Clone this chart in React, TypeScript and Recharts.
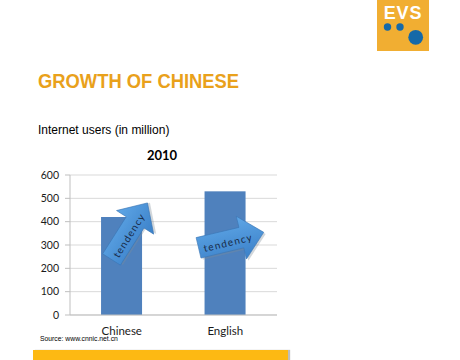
import React from "react";
import { BarChart, Bar, XAxis, YAxis, CartesianGrid } from "recharts";

const languages = ["Chinese", "English"];
const users2010 = [420, 530];
const yTicks = [0, 100, 200, 300, 400, 500, 600];
const edgeTicks = [0, 1, 2];
const arrowLabel = "tendency";

const data = languages.map((name, i) => ({ name, users: users2010[i] }));

// tendency arrows, placed relative to the top-left corner of their bar
const ARROWS = [
  { dx: 10.5, dy: 42.5, angle: -57.6 },
  { dx: -6, dy: 56.5, angle: -13.4 },
];

const ORANGE = "#E9A11B";
const BAR_BLUE = "#4F81BD";
const AXIS_GREY = "#BFBFBF";
const FONT = "Lato, 'Open Sans', sans-serif";

function TendencyArrow({ x, y, angle, id }: { x: number; y: number; angle: number; id: number }) {
  const len = 67;
  const shaft = 10.5;
  const headW = 22;
  const headL = 23;
  const pts = [
    [0, -shaft],
    [len - headL, -shaft],
    [len - headL, -headW],
    [len, 0],
    [len - headL, headW],
    [len - headL, shaft],
    [0, shaft],
  ]
    .map((p) => p.join(","))
    .join(" ");
  return (
    <g transform={`translate(${x},${y}) rotate(${angle})`}>
      <defs>
        <linearGradient id={`arrowFill${id}`} x1="0" y1="0" x2="0" y2="1">
          <stop offset="0%" stopColor="#5EA6E6" />
          <stop offset="100%" stopColor="#3B80C8" />
        </linearGradient>
      </defs>
      <polygon points={pts} fill="#7f8c99" opacity={0.35} transform="translate(1.5,2)" />
      <polygon points={pts} fill={`url(#arrowFill${id})`} stroke="#3A76B5" strokeWidth={0.6} />
      <text
        x={30}
        y={2}
        dy="0.35em"
        textAnchor="middle"
        fontFamily={FONT}
        fontSize={10}
        letterSpacing={1.2}
        fill="#172a47"
      >
        {arrowLabel}
      </text>
    </g>
  );
}

const renderBar = (props: any) => {
  const { x, y, width, height, index } = props;
  const a = ARROWS[index];
  return (
    <g>
      <rect x={x} y={y} width={width} height={height} fill={BAR_BLUE} />
      {a && <TendencyArrow x={x + a.dx} y={y + a.dy} angle={a.angle} id={index} />}
    </g>
  );
};

export default function App() {
  return (
    <div
      style={{
        position: "absolute",
        left: 0,
        top: 0,
        width: 460,
        height: 360,
        background: "#fff",
        overflow: "hidden",
        fontFamily: "'Liberation Sans', Arial, sans-serif",
      }}
    >
      {/* EVS logo */}
      <svg width={460} height={60} style={{ position: "absolute", left: 0, top: 0 }}>
        <rect x={377} y={0} width={52} height={51} fill="#F1AE32" />
        <text
          x={403}
          y={19}
          textAnchor="middle"
          fontFamily="'Liberation Sans', Arial, sans-serif"
          fontWeight="bold"
          fontSize={18}
          letterSpacing={0.8}
          fill="#fff"
        >
          EVS
        </text>
        <circle cx={387.5} cy={27} r={3.7} fill="#1569A8" />
        <circle cx={400} cy={27} r={3.7} fill="#1569A8" />
        <circle cx={415.7} cy={37.3} r={7.4} fill="#1569A8" />
      </svg>

      <div
        style={{
          position: "absolute",
          left: 38,
          top: 70,
          fontSize: 21,
          lineHeight: "21px",
          fontWeight: "bold",
          color: ORANGE,
          whiteSpace: "nowrap",
          transform: "scaleX(0.875)",
          transformOrigin: "left center",
        }}
      >
        GROWTH OF CHINESE
      </div>

      <div
        style={{
          position: "absolute",
          left: 38,
          top: 123,
          fontSize: 12,
          lineHeight: "14px",
          color: "#000",
          whiteSpace: "nowrap",
        }}
      >
        Internet users (in million)
      </div>

      <div
        style={{
          position: "absolute",
          left: 112,
          top: 147,
          width: 100,
          textAlign: "center",
          fontFamily: FONT,
          fontWeight: "bold",
          fontSize: 13,
          lineHeight: "16px",
          color: "#000",
        }}
      >
        2010
      </div>

      <div style={{ position: "absolute", left: 20, top: 140 }}>
        <BarChart
          width={265}
          height={200}
          data={data}
          margin={{ top: 35, right: 8, left: 0, bottom: 0 }}
          barCategoryGap="30%"
        >
          <CartesianGrid vertical={false} stroke="#D9D9D9" />
          <XAxis
            xAxisId="edge"
            type="number"
            domain={[0, 2]}
            ticks={edgeTicks}
            tickFormatter={() => ""}
            axisLine={false}
            tickLine={{ stroke: AXIS_GREY }}
            tickSize={4}
            height={0}
          />
          <XAxis
            dataKey="name"
            axisLine={{ stroke: AXIS_GREY }}
            tickLine={false}
            tickMargin={6}
            height={25}
            tick={{ fontFamily: FONT, fontSize: 11.5, fill: "#1a1a1a" }}
          />
          <YAxis
            width={50}
            domain={[0, 600]}
            ticks={yTicks}
            axisLine={{ stroke: AXIS_GREY }}
            tickLine={{ stroke: AXIS_GREY }}
            tickSize={5}
            tickMargin={6}
            tick={{ fontFamily: FONT, fontSize: 10.5, fill: "#1a1a1a" }}
          />
          <Bar dataKey="users" shape={renderBar} isAnimationActive={false} />
        </BarChart>
      </div>

      <div
        style={{
          position: "absolute",
          left: 40,
          top: 335,
          fontSize: 6.8,
          lineHeight: "8px",
          color: "#000",
          whiteSpace: "nowrap",
        }}
      >
        Source: www.cnnic.net.cn
      </div>

      <div
        style={{
          position: "absolute",
          left: 33,
          top: 350,
          width: 255,
          height: 10,
          background: "#FDB913",
          boxShadow: "2px 0 1px #bdbdbd",
        }}
      />
    </div>
  );
}
